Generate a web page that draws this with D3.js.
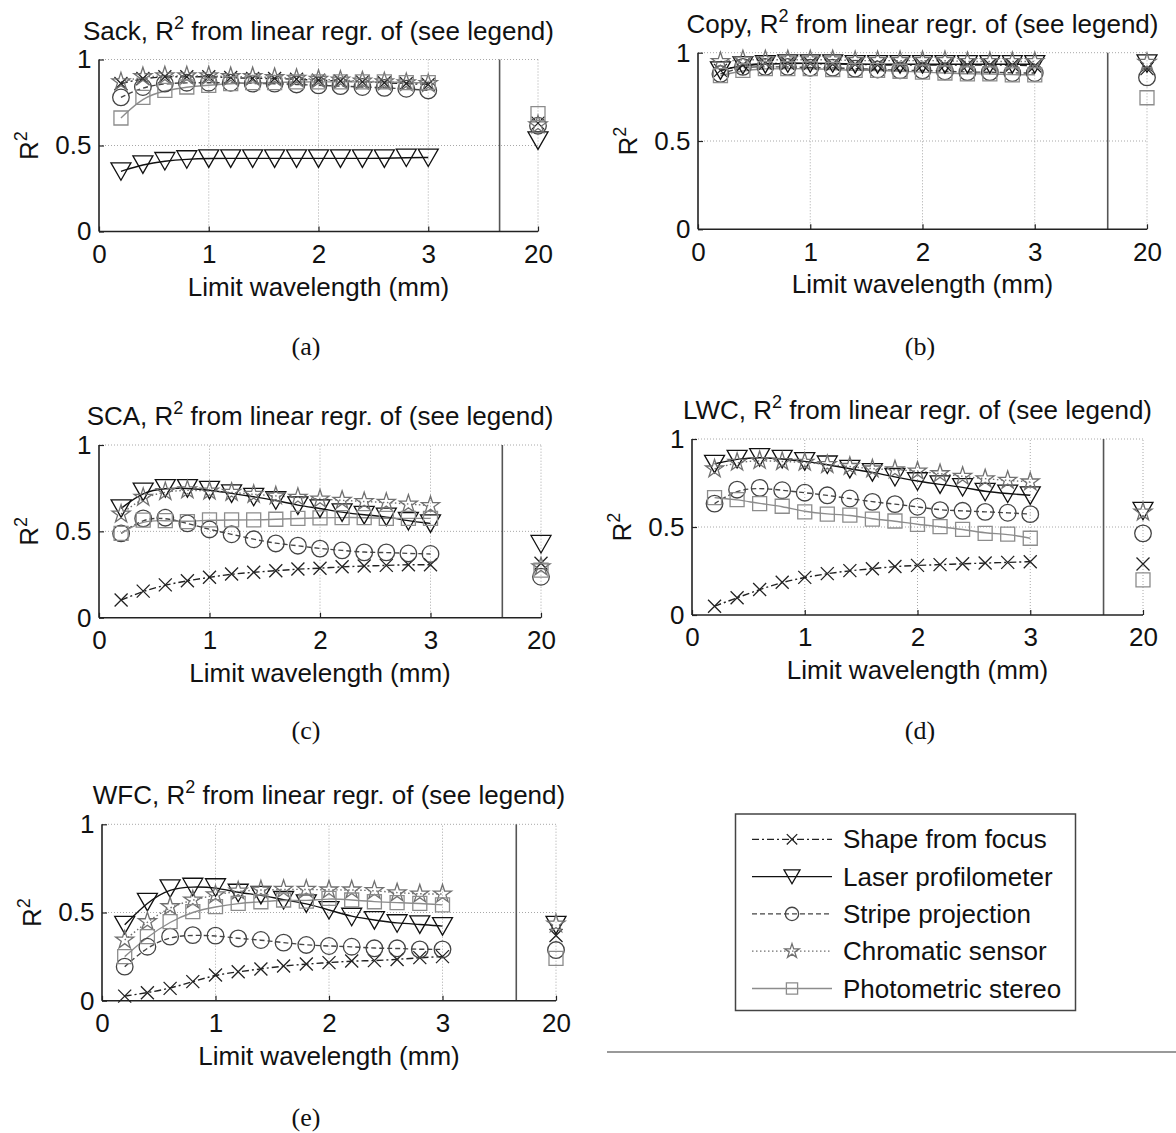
<!DOCTYPE html>
<html><head><meta charset="utf-8">
<script src="https://cdn.jsdelivr.net/npm/d3@7"></script>
<style>body{margin:0;background:#fff} svg{display:block}</style>
</head><body><svg id="chart" width="1176" height="1133"></svg>
<script>
// ---------- DATA ----------
const limitWavelengths = [0.2,0.4,0.6,0.8,1.0,1.2,1.4,1.6,1.8,2.0,2.2,2.4,2.6,2.8,3.0,20];
const xTickValues = [0,1,2,3,20];
const yTickValues = [0,0.5,1];
const yTickLabels = ["0","0.5","1"];
const panelLetters = ["(a)","(b)","(c)","(d)","(e)"];
const sampleNames = ["Sack","Copy","SCA","LWC","WFC"];
const methodNames = ["Shape from focus","Laser profilometer","Stripe projection","Chromatic sensor","Photometric stereo"];

// last value of each array is the 20 mm point
const sackShapeFromFocus = [0.86,0.89,0.9,0.9,0.9,0.895,0.89,0.89,0.885,0.88,0.875,0.87,0.865,0.86,0.855,0.63];
const sackLaser          = [0.35,0.39,0.41,0.42,0.425,0.425,0.425,0.425,0.425,0.425,0.425,0.425,0.425,0.43,0.43,0.53];
const sackStripe         = [0.78,0.84,0.86,0.865,0.865,0.865,0.86,0.86,0.855,0.85,0.845,0.84,0.835,0.83,0.82,0.615];
const sackChromatic      = [0.87,0.9,0.905,0.905,0.905,0.9,0.9,0.895,0.89,0.885,0.88,0.875,0.87,0.865,0.86,0.62];
const sackPhotometric    = [0.66,0.78,0.82,0.84,0.85,0.86,0.865,0.865,0.87,0.87,0.87,0.87,0.87,0.865,0.865,0.685];

const copyShapeFromFocus = [0.9,0.93,0.94,0.94,0.94,0.935,0.935,0.93,0.93,0.93,0.93,0.93,0.93,0.93,0.925,0.91];
const copyLaser          = [0.9,0.93,0.935,0.94,0.94,0.94,0.935,0.935,0.935,0.935,0.935,0.935,0.935,0.935,0.935,0.94];
const copyStripe         = [0.88,0.92,0.92,0.92,0.915,0.915,0.91,0.905,0.9,0.9,0.895,0.89,0.89,0.885,0.885,0.86];
const copyChromatic      = [0.95,0.96,0.96,0.96,0.96,0.96,0.955,0.955,0.955,0.955,0.955,0.95,0.95,0.95,0.95,0.945];
const copyPhotometric    = [0.87,0.9,0.91,0.91,0.91,0.905,0.9,0.9,0.895,0.89,0.885,0.88,0.88,0.875,0.875,0.745];

const scaShapeFromFocus  = [0.102,0.154,0.19,0.214,0.234,0.253,0.263,0.272,0.282,0.286,0.295,0.299,0.303,0.307,0.307,0.315];
const scaLaser           = [0.633,0.73,0.75,0.75,0.74,0.72,0.70,0.68,0.65,0.633,0.61,0.595,0.585,0.56,0.546,0.427];
const scaStripe          = [0.488,0.575,0.579,0.546,0.511,0.483,0.454,0.43,0.417,0.40,0.39,0.378,0.378,0.372,0.369,0.237];
const scaChromatic       = [0.6,0.697,0.73,0.74,0.733,0.726,0.714,0.705,0.697,0.687,0.68,0.672,0.668,0.658,0.649,0.295];
const scaPhotometric     = [0.488,0.565,0.562,0.556,0.566,0.566,0.566,0.57,0.575,0.578,0.58,0.58,0.575,0.575,0.575,0.276];

const lwcShapeFromFocus  = [0.05,0.098,0.145,0.186,0.214,0.235,0.252,0.263,0.276,0.282,0.286,0.291,0.295,0.299,0.303,0.29];
const lwcLaser           = [0.859,0.887,0.897,0.887,0.874,0.855,0.83,0.812,0.784,0.76,0.742,0.727,0.70,0.69,0.68,0.592];
const lwcStripe          = [0.633,0.712,0.722,0.709,0.695,0.68,0.662,0.643,0.63,0.615,0.596,0.592,0.586,0.581,0.573,0.464];
const lwcChromatic       = [0.83,0.868,0.878,0.872,0.868,0.855,0.844,0.83,0.825,0.818,0.803,0.788,0.774,0.765,0.756,0.585];
const lwcPhotometric     = [0.667,0.656,0.633,0.618,0.586,0.573,0.568,0.545,0.534,0.515,0.502,0.487,0.464,0.46,0.436,0.2];

const wfcShapeFromFocus  = [0.026,0.045,0.07,0.108,0.146,0.164,0.18,0.197,0.208,0.216,0.225,0.227,0.234,0.244,0.25,0.37];
const wfcLaser           = [0.43,0.56,0.637,0.646,0.643,0.612,0.6,0.571,0.552,0.514,0.476,0.457,0.439,0.433,0.423,0.43];
const wfcStripe          = [0.193,0.306,0.363,0.372,0.369,0.353,0.344,0.329,0.316,0.31,0.306,0.297,0.297,0.291,0.291,0.287];
const wfcChromatic       = [0.344,0.448,0.533,0.571,0.6,0.622,0.628,0.631,0.631,0.628,0.628,0.624,0.612,0.605,0.605,0.435];
const wfcPhotometric     = [0.25,0.363,0.448,0.505,0.533,0.552,0.561,0.571,0.565,0.58,0.571,0.561,0.556,0.552,0.543,0.24];

const panelSeries = [
  [sackShapeFromFocus, sackLaser, sackStripe, sackChromatic, sackPhotometric],
  [copyShapeFromFocus, copyLaser, copyStripe, copyChromatic, copyPhotometric],
  [scaShapeFromFocus, scaLaser, scaStripe, scaChromatic, scaPhotometric],
  [lwcShapeFromFocus, lwcLaser, lwcStripe, lwcChromatic, lwcPhotometric],
  [wfcShapeFromFocus, wfcLaser, wfcStripe, wfcChromatic, wfcPhotometric]
];

// ---------- LAYOUT / STYLE ----------
const layouts = [
  {x0:99,  x20:538,  yTop:59.5,  yBot:231.5, capX:306, capY:355},
  {x0:698, x20:1147, yTop:52.7,  yBot:229.3, capX:920, capY:355},
  {x0:99,  x20:541,  yTop:445,   yBot:617.7, capX:306, capY:739},
  {x0:692, x20:1143, yTop:439,   yBot:615,   capX:920, capY:739},
  {x0:102, x20:556,  yTop:824.3, yBot:1000.7,capX:306, capY:1126}
];
const breakPos = 3.65; // axis-break position in "display units" (20 sits at 4)
const methodStyles = [
  {color:"#222", dash:"7,3,2,3", marker:"x"},
  {color:"#111", dash:null,      marker:"tri"},
  {color:"#444", dash:"5,3",     marker:"circle"},
  {color:"#707070", dash:"1.5,2.5", marker:"star"},
  {color:"#8c8c8c", dash:null,   marker:"square"}
];
const FONT = "'Liberation Sans', Arial, sans-serif";
const FS = 26;

function markerPath(type, k){
  k = k || 1;
  if(type==="x") return `M${-6.5*k},${-6.5*k}L${6.5*k},${6.5*k}M${-6.5*k},${6.5*k}L${6.5*k},${-6.5*k}`;
  if(type==="tri") return `M${-10*k},${-8.5*k}L${10*k},${-8.5*k}L0,${9*k}Z`;
  if(type==="circle"){ const r=8.3*k; return `M${r},0A${r},${r} 0 1,1 ${-r},0A${r},${r} 0 1,1 ${r},0Z`; }
  if(type==="square"){ const h=7*k; return `M${-h},${-h}H${h}V${h}H${-h}Z`; }
  if(type==="star"){
    const R=9.5*k, r=R*0.382; let p=[];
    for(let i=0;i<10;i++){
      const a=-Math.PI/2 + i*Math.PI/5; const rad = i%2===0?R:r;
      p.push([rad*Math.cos(a), rad*Math.sin(a)]);
    }
    return "M"+p.map(d=>d[0].toFixed(2)+","+d[1].toFixed(2)).join("L")+"Z";
  }
}

const svg = d3.select("#chart");

layouts.forEach((L, pi) => {
  const u = (L.x20 - L.x0)/4;
  const x = d3.scaleLinear().domain([0,3,20]).range([L.x0, L.x0+3*u, L.x20]);
  const y = d3.scaleLinear().domain([0,1]).range([L.yBot, L.yTop]);
  const g = svg.append("g");

  // grid
  g.selectAll(".vg").data(xTickValues.filter(v=>v>0)).enter().append("line")
    .attr("x1",d=>x(d)).attr("x2",d=>x(d)).attr("y1",L.yBot).attr("y2",L.yTop)
    .attr("stroke","#a8a8a8").attr("stroke-width",1).attr("stroke-dasharray","1,2");
  g.selectAll(".hg").data(yTickValues.filter(v=>v>0)).enter().append("line")
    .attr("x1",L.x0).attr("x2",L.x20).attr("y1",d=>y(d)).attr("y2",d=>y(d))
    .attr("stroke","#a8a8a8").attr("stroke-width",1).attr("stroke-dasharray","1,2");

  // break line
  const bx = L.x0 + breakPos*u;
  g.append("line").attr("x1",bx).attr("x2",bx).attr("y1",L.yBot).attr("y2",L.yTop)
    .attr("stroke","#555").attr("stroke-width",1.6);

  // axes
  const xAxis = d3.axisBottom(x).tickValues(xTickValues).tickFormat(d3.format("d"))
    .tickSizeInner(-5).tickSizeOuter(0).tickPadding(13);
  const gx = g.append("g").attr("transform",`translate(0,${L.yBot})`).call(xAxis);
  const yAxis = d3.axisLeft(y).tickValues(yTickValues).tickFormat((d,i)=>yTickLabels[i])
    .tickSizeInner(-5).tickSizeOuter(0).tickPadding(7.5);
  const gy = g.append("g").attr("transform",`translate(${L.x0},0)`).call(yAxis);
  [gx,gy].forEach(a=>{
    a.select(".domain").attr("stroke","#222").attr("stroke-width",1.6);
    a.selectAll(".tick line").attr("stroke","#222").attr("stroke-width",1.2);
    a.selectAll(".tick text").attr("font-family",FONT).attr("font-size",FS).attr("fill","#111");
  });
  gx.select(".domain").attr("d",`M${L.x0},0H${L.x20}`);
  gy.select(".domain").attr("d",`M0,${L.yBot}V${L.yTop}`);

  // series lines
  const xs = limitWavelengths.slice(0,15);
  const line = d3.line().x(d=>x(d[0])).y(d=>y(d[1])).curve(d3.curveBasis);
  panelSeries[pi].forEach((vals, si) => {
    const st = methodStyles[si];
    g.append("path").datum(xs.map((xv,i)=>[xv, vals[i]]))
      .attr("d", line).attr("fill","none").attr("stroke",st.color)
      .attr("stroke-width",1.4).attr("stroke-dasharray",st.dash);
  });
  // markers
  panelSeries[pi].forEach((vals, si) => {
    const st = methodStyles[si];
    g.selectAll(null).data(limitWavelengths.map((xv,i)=>[xv, vals[i]])).enter().append("path")
      .attr("transform",d=>`translate(${x(d[0])},${y(d[1])})`)
      .attr("d", markerPath(st.marker)).attr("fill","none")
      .attr("stroke",st.color).attr("stroke-width",1.3);
  });

  // title
  const cx = (L.x0+L.x20)/2;
  const t = g.append("text").attr("x",cx).attr("y",L.yTop-20).attr("text-anchor","middle")
    .attr("font-family",FONT).attr("font-size",FS).attr("fill","#111");
  t.append("tspan").text(sampleNames[pi]+", R");
  t.append("tspan").attr("dy",-11).attr("font-size",18).text("2");
  t.append("tspan").attr("dy",11).text(" from linear regr. of (see legend)");

  // x label
  g.append("text").attr("x",cx).attr("y",L.yBot+64).attr("text-anchor","middle")
    .attr("font-family",FONT).attr("font-size",FS).attr("fill","#111")
    .text("Limit wavelength (mm)");

  // y label
  const yl = g.append("text").attr("transform",`translate(${L.x0-61.5},${(L.yTop+L.yBot)/2}) rotate(-90)`)
    .attr("text-anchor","middle").attr("font-family",FONT).attr("font-size",FS).attr("fill","#111");
  yl.append("tspan").text("R");
  yl.append("tspan").attr("dy",-11).attr("font-size",18).text("2");

  // caption
  svg.append("text").attr("x",L.capX).attr("y",L.capY).attr("text-anchor","middle")
    .attr("font-family","'Liberation Serif', 'Times New Roman', serif").attr("font-size",26)
    .attr("fill","#111").text(panelLetters[pi]);
});

// legend
const lg = svg.append("g");
lg.append("rect").attr("x",735.5).attr("y",814).attr("width",340).attr("height",196.5)
  .attr("fill","#fff").attr("stroke","#444").attr("stroke-width",1.5);
methodNames.forEach((name, i) => {
  const st = methodStyles[i];
  const cy = 839.3 + i*37.3;
  lg.append("line").attr("x1",752).attr("x2",832).attr("y1",cy).attr("y2",cy)
    .attr("stroke",st.color).attr("stroke-width",1.3).attr("stroke-dasharray",st.dash);
  lg.append("path").attr("transform",`translate(792,${cy})`).attr("d",markerPath(st.marker, 0.8))
    .attr("fill","none").attr("stroke",st.color).attr("stroke-width",1.3);
  lg.append("text").attr("x",843).attr("y",cy).attr("dy","0.35em")
    .attr("font-family",FONT).attr("font-size",FS).attr("fill","#111").text(name);
});
// separator rule
svg.append("line").attr("x1",607).attr("x2",1176).attr("y1",1052).attr("y2",1052)
  .attr("stroke","#999").attr("stroke-width",2);
</script>
</body></html>
